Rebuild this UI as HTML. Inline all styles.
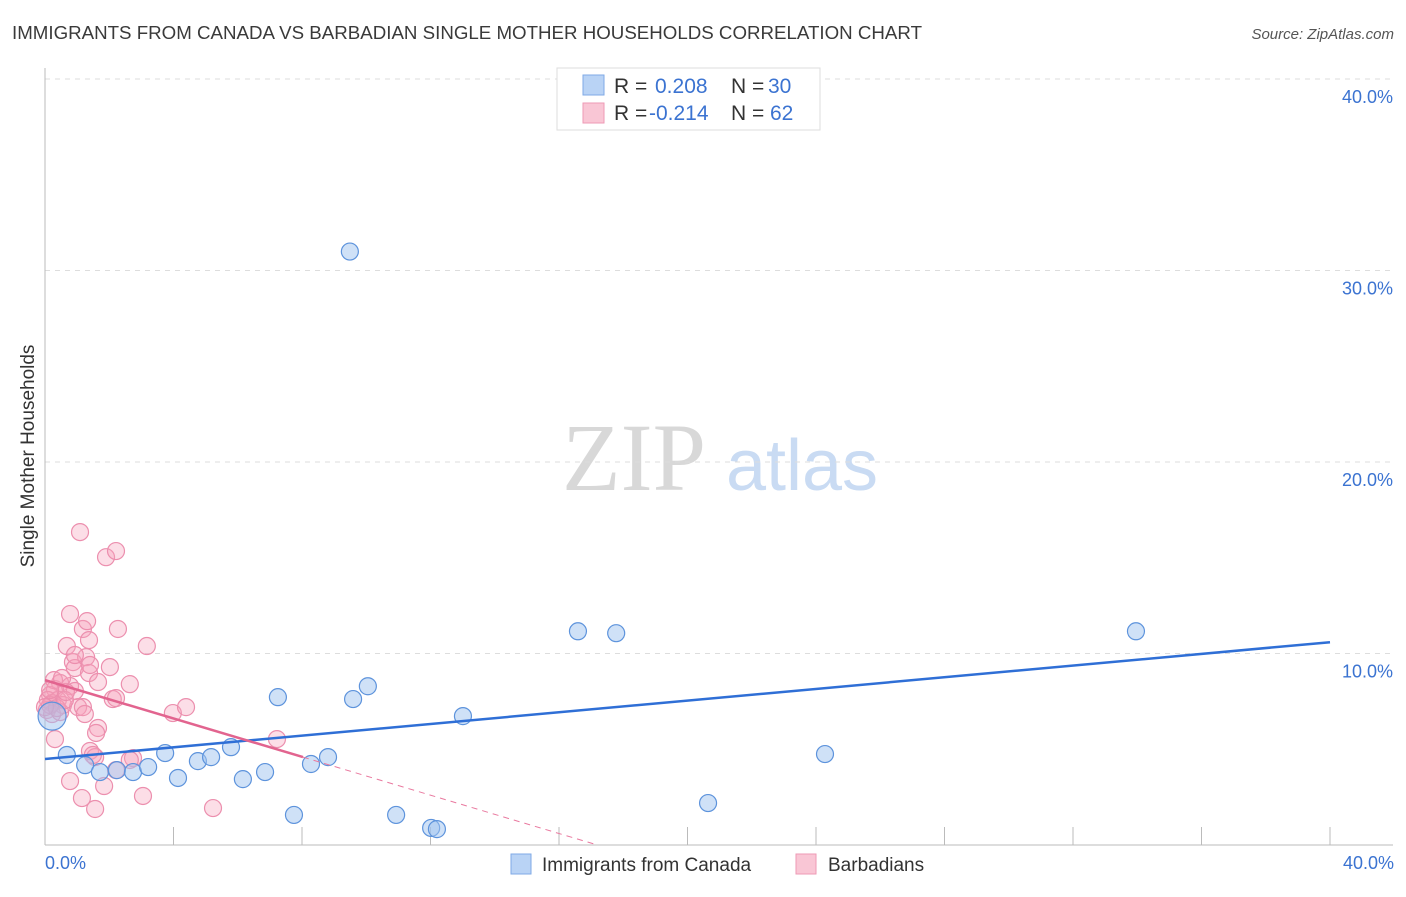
<!DOCTYPE html>
<html><head><meta charset="utf-8"><style>
body{margin:0;background:#fff;font-family:"Liberation Sans",sans-serif;}
svg text{font-family:"Liberation Sans",sans-serif;}
</style></head><body>
<svg id="chart" width="1406" height="892" viewBox="0 0 1406 892" xmlns="http://www.w3.org/2000/svg">
<text x="12" y="39" font-size="18" fill="#3a3a3a" textLength="910" lengthAdjust="spacingAndGlyphs">IMMIGRANTS FROM CANADA VS BARBADIAN SINGLE MOTHER HOUSEHOLDS CORRELATION CHART</text>
<text x="1394" y="39" font-size="15" fill="#555" font-style="italic" text-anchor="end">Source: ZipAtlas.com</text>
<g>
<text x="634" y="490" font-size="96" fill="#d8d8d8" text-anchor="middle" style="font-family:'Liberation Serif',serif">ZIP</text>
<text x="802" y="490" font-size="72" fill="#c9dbf3" text-anchor="middle">atlas</text>
</g>
<g id="grid"></g>
<g id="axes"></g>
<g id="marks"></g>
<text transform="translate(34,456) rotate(-90)" font-size="19" fill="#333" text-anchor="middle">Single Mother Households</text>
<text x="45" y="869" font-size="18" fill="#3b73d1">0.0%</text>
<text x="1394" y="869" font-size="18" fill="#3b73d1" text-anchor="end">40.0%</text>
<g>
<rect x="557" y="68" width="263" height="62" fill="#fff" stroke="#ddd"/>
<rect x="583" y="75" width="21" height="20" fill="#b9d3f5" stroke="#7fa9e6"/>
<rect x="583" y="103" width="21" height="20" fill="#f9c6d5" stroke="#ee9ab5"/>
<text x="614" y="93" font-size="21" fill="#333">R =</text>
<text x="655" y="93" font-size="21" fill="#3b73d1">0.208</text>
<text x="731" y="93" font-size="21" fill="#333">N =</text>
<text x="768" y="93" font-size="21" fill="#3b73d1">30</text>
<text x="614" y="120" font-size="21" fill="#333">R =</text>
<text x="649" y="120" font-size="21" fill="#3b73d1">-0.214</text>
<text x="731" y="120" font-size="21" fill="#333">N =</text>
<text x="770" y="120" font-size="21" fill="#3b73d1">62</text>
</g>
<g>
<rect x="511" y="854" width="20" height="20" fill="#b9d3f5" stroke="#7fa9e6"/>
<text x="542" y="871" font-size="19" fill="#333">Immigrants from Canada</text>
<rect x="796" y="854" width="20" height="20" fill="#f9c6d5" stroke="#ee9ab5"/>
<text x="828" y="871" font-size="19" fill="#333">Barbadians</text>
</g>
</svg>
<script>
const yTicks=[10,20,30,40];
const yTickLabels=["10.0%","20.0%","30.0%","40.0%"];
const xTicks=[0,4,8,12,16,20,24,28,32,36,40];
const canadaX=[0.22,0.68,1.25,1.71,2.24,2.74,3.21,3.74,4.14,4.76,5.17,5.79,6.16,6.85,7.25,7.75,8.28,8.81,9.49,9.59,10.05,10.93,12.02,12.20,13.01,16.59,17.78,20.64,24.28,33.96];
const canadaY=[6.73,4.70,4.17,3.81,3.91,3.81,4.07,4.80,3.50,4.38,4.59,5.11,3.44,3.81,7.72,1.57,4.23,4.59,30.99,7.62,8.29,1.57,0.89,0.83,6.73,11.16,11.06,2.19,4.75,11.16];
const barbX=[1.09,1.90,2.21,0.78,1.18,1.31,2.27,0.68,1.37,3.17,0.87,0.93,1.28,2.02,1.37,1.65,2.64,0.47,0.78,0.93,0.31,0.16,0.09,0.22,0.40,0.56,0.06,0.22,0.47,1.03,1.18,2.11,2.21,3.98,4.39,1.65,1.59,0.31,1.40,1.56,2.74,7.22,0.78,1.84,1.15,1.56,3.05,5.23,0.16,0.37,0.00,0.62,0.65,0.28,0.53,1.40,0.93,2.64,1.49,1.24,2.21,0.16];
const barbY=[16.34,15.03,15.35,12.06,11.28,11.69,11.28,10.39,10.70,10.39,9.55,9.24,9.81,9.29,8.98,8.51,8.40,8.46,8.30,8.04,8.14,7.83,7.57,7.41,7.57,7.31,7.05,6.84,6.94,7.20,7.20,7.62,7.67,6.89,7.20,6.11,5.85,5.53,4.91,4.59,4.54,5.53,3.34,3.08,2.45,1.88,2.56,1.93,7.31,7.15,7.20,7.57,7.99,8.61,8.72,9.40,9.92,4.44,4.70,6.84,3.91,8.09];
const canadaTrend=[4.49,10.59];
const barbTrend=[8.61,4.59,8.03];
const NS="http://www.w3.org/2000/svg";
const X0=45,X1=1330,Y0=845,Y40=79;
const sx=v=>X0+(v/40)*(X1-X0);
const sy=v=>Y0-(v/40)*(Y0-Y40);
function mk(t,a,p){const e=document.createElementNS(NS,t);for(const k in a)e.setAttribute(k,a[k]);p.appendChild(e);return e;}
const grid=document.getElementById('grid'),axes=document.getElementById('axes'),marks=document.getElementById('marks');
yTicks.forEach((t,i)=>{
 const l=mk('line',{x1:X0,x2:1393,y1:sy(t),y2:sy(t),stroke:'#ddd','stroke-dasharray':'5,5'},grid);
 
 
 const tx=mk('text',{x:1393,y:sy(t)+24,'font-size':18,fill:'#3b73d1','text-anchor':'end'},grid);
 tx.textContent=yTickLabels[i];
 
 
});
const ya=mk('line',{x1:X0,x2:X0,y1:68,y2:Y0,stroke:'#bbb'},axes);


const xa=mk('line',{x1:X0,x2:1393,y1:Y0,y2:Y0,stroke:'#bbb'},axes);


xTicks.forEach(t=>{
 const l=mk('line',{x1:sx(t),x2:sx(t),y1:827,y2:Y0,stroke:'#bbb'},axes);
 
 
});
barbX.forEach((v,i)=>{
 const c=mk('circle',{cx:sx(v),cy:sy(barbY[i]),r:8.5,fill:'rgba(245,160,186,0.35)',stroke:'#ec8fae','stroke-width':1.2},marks);
 
 
});
canadaX.forEach((v,i)=>{
 const c=mk('circle',{cx:sx(v),cy:sy(canadaY[i]),r:i===0?14:8.5,fill:'rgba(160,196,240,0.5)',stroke:'#5d93dc','stroke-width':1.2},marks);
 
 
});
const bt=mk('line',{x1:sx(0),y1:sy(canadaTrend[0]),x2:sx(40),y2:sy(canadaTrend[1]),stroke:'#2f6fd6','stroke-width':2.5},marks);


const slope=(barbTrend[1]-barbTrend[0])/barbTrend[2];
const xz=-barbTrend[0]/slope;
const pd=mk('line',{x1:sx(barbTrend[2]),y1:sy(barbTrend[1]),x2:sx(xz),y2:sy(0),stroke:'#e9799f','stroke-width':1,'stroke-dasharray':'6,5'},marks);


const pt=mk('line',{x1:sx(0),y1:sy(barbTrend[0]),x2:sx(barbTrend[2]),y2:sy(barbTrend[1]),stroke:'#e2648f','stroke-width':2.5},marks);


</script>
</body></html>
